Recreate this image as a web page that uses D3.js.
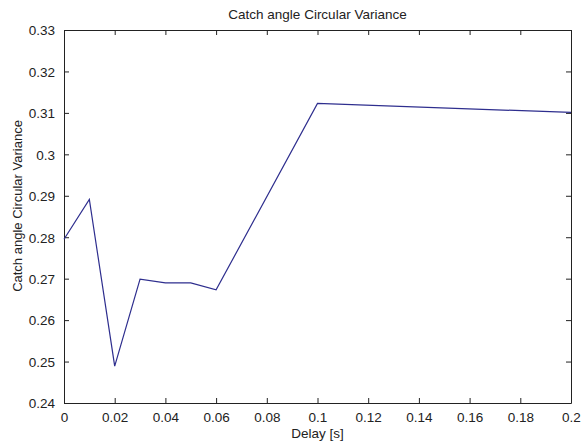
<!DOCTYPE html>
<html>
<head>
<meta charset="utf-8">
<script src="https://cdn.jsdelivr.net/npm/d3@7"></script>
<style>
  body { margin: 0; background: #fff; }
  text { font-family: "Liberation Sans", Arial, sans-serif; fill: #222; }
</style>
</head>
<body>
<div id="chart"></div>
<script>
// data
var delays = [0, 0.01, 0.02, 0.03, 0.04, 0.05, 0.06, 0.1, 0.2];
var variance = [0.2795, 0.2891, 0.2489, 0.2699, 0.2690, 0.2690, 0.2673, 0.3123, 0.3101];
var xTicks = [0, 0.02, 0.04, 0.06, 0.08, 0.1, 0.12, 0.14, 0.16, 0.18, 0.2];
var yTicks = [0.24, 0.25, 0.26, 0.27, 0.28, 0.29, 0.3, 0.31, 0.32, 0.33];

var W = 585, H = 443;
var margin = {top: 30, right: 14, bottom: 40, left: 64},
  width = W - margin.left - margin.right,
  height = H - margin.top - margin.bottom;

var svg = d3.select("#chart")
  .append("svg")
    .attr("width", W)
    .attr("height", H);

var g = svg.append("g")
  .attr("transform", "translate(" + margin.left + "," + margin.top + ")");

var x = d3.scaleLinear().domain([0, 0.2]).range([0, width]);
var y = d3.scaleLinear().domain([0.24, 0.33]).range([height, 0]);

var fmt = function(d) { return d3.format("")(+d.toFixed(2)); };

// axes (MATLAB style: inward ticks, box on)
function styleAxis(sel) {
  sel.select(".domain").attr("stroke", "#222");
  sel.selectAll(".tick line").attr("stroke", "#222");
  sel.selectAll(".tick text").style("font-size", "13.5px").attr("fill", "#222");
}

g.append("g")
  .attr("transform", "translate(0," + height + ")")
  .call(d3.axisBottom(x).tickValues(xTicks).tickFormat(fmt).tickSizeInner(-5).tickSizeOuter(0).tickPadding(9))
  .call(styleAxis);

g.append("g")
  .call(d3.axisLeft(y).tickValues(yTicks).tickFormat(fmt).tickSizeInner(-5).tickSizeOuter(0).tickPadding(9))
  .call(styleAxis)
  .selectAll(".tick text").attr("dy", "0.36em");

g.append("g")
  .call(d3.axisTop(x).tickValues(xTicks).tickFormat("").tickSizeInner(-5).tickSizeOuter(0))
  .call(styleAxis);

g.append("g")
  .attr("transform", "translate(" + width + ",0)")
  .call(d3.axisRight(y).tickValues(yTicks).tickFormat("").tickSizeInner(-5).tickSizeOuter(0))
  .call(styleAxis);

// the line
var line = d3.line()
  .x(function(d, i) { return x(delays[i]); })
  .y(function(d) { return y(d); });

g.append("path")
  .datum(variance)
  .attr("d", line)
  .attr("fill", "none")
  .attr("stroke", "#2e2e8e")
  .attr("stroke-width", 1.2);

// labels
svg.append("text")
  .attr("x", margin.left + width / 2)
  .attr("y", 18.5)
  .attr("text-anchor", "middle")
  .style("font-size", "13.5px")
  .text("Catch angle Circular Variance");

svg.append("text")
  .attr("x", margin.left + width / 2)
  .attr("y", 438)
  .attr("text-anchor", "middle")
  .style("font-size", "13.5px")
  .text("Delay [s]");

svg.append("text")
  .attr("transform", "translate(22," + 206 + ") rotate(-90)")
  .attr("text-anchor", "middle")
  .style("font-size", "13px")
  .text("Catch angle Circular Variance");
</script>
</body>
</html>
